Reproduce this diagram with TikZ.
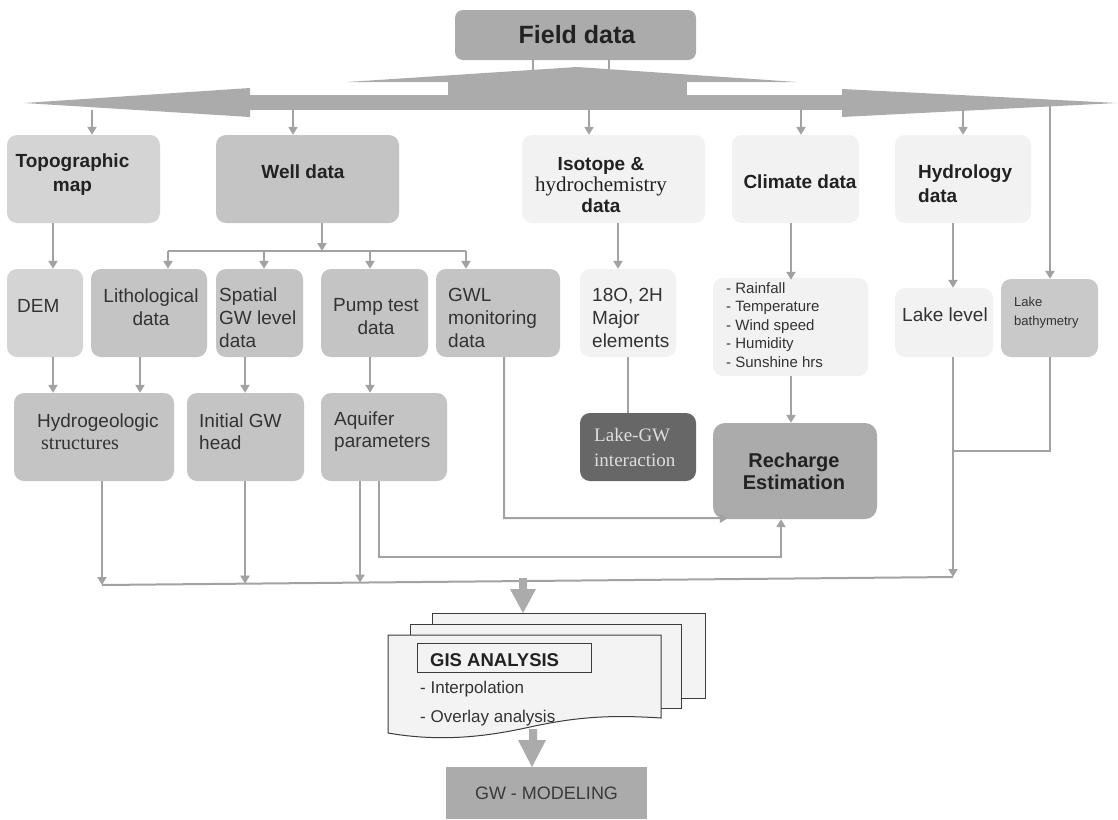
\documentclass[tikz,border=0pt]{standalone}
\usepackage{fontspec}
\setmainfont{Liberation Sans}
\newfontfamily\serifx{Liberation Serif}
\usetikzlibrary{arrows.meta}
\definecolor{lineg}{HTML}{A2A2A2}
\definecolor{arrowg}{HTML}{ABABAB}
\definecolor{boxA}{HTML}{D4D4D4}
\definecolor{boxB}{HTML}{C4C4C4}
\definecolor{boxC}{HTML}{F2F2F2}
\definecolor{boxD}{HTML}{ABABAB}
\definecolor{boxE}{HTML}{676767}
\definecolor{boxF}{HTML}{C9C9C9}
\definecolor{docfill}{HTML}{F3F3F3}
\definecolor{docline}{HTML}{3C3C3C}
\definecolor{txt}{HTML}{333333}
\definecolor{txtb}{HTML}{222222}
\tikzset{
  box/.style={rounded corners=10pt, inner sep=0pt, draw=none},
  conn/.style={draw=lineg, line width=2pt},
  arr/.style={conn, -{Triangle[width=9pt,length=8pt]}},
  lbl/.style={inner sep=0pt, text=txt, font=\fontsize{19}{23}\selectfont},
  lblb/.style={inner sep=0pt, text=txtb, font=\fontsize{19}{24}\selectfont\bfseries},
  doc/.style={fill=docfill, draw=docline, line width=1pt},
}
\begin{document}
\begin{tikzpicture}[x=1pt,y=-1pt]
\useasboundingbox (0,0) rectangle (1118,819);
\fill[white] (0,0) rectangle (1118,819);

% ---------- Field data and big double arrow ----------
\node[box, rounded corners=8pt, fill=boxD, minimum width=241pt, minimum height=50pt] (field) at (575.5,35) {};
\node[lblb, font=\fontsize{25}{30}\selectfont\bfseries] (tField) at (577,35) {Field data};
\coordinate (stemA) at (533,70);
\coordinate (stemB) at (609,70);
\draw[conn] (field.south -| stemA) -- (stemA);
\draw[conn] (field.south -| stemB) -- (stemB);
\fill[arrowg] (347,82) -- (577,67) -- (797,82) -- cycle;
\fill[arrowg] (448,81) rectangle (687,96);
\fill[arrowg] (249,95) rectangle (843,110);
\fill[arrowg] (250,88) -- (24,103) -- (250,117) -- cycle;
\fill[arrowg] (842,89) -- (1117,103) -- (842,117) -- cycle;

% ---------- top row ----------
\node[box, fill=boxA, minimum width=153pt, minimum height=88pt] (topo) at (83.5,179) {};
\node[box, fill=boxB, minimum width=183pt, minimum height=88pt] (well) at (307.5,179) {};
\node[box, fill=boxC, minimum width=183pt, minimum height=88pt] (iso) at (613.5,179) {};
\node[box, fill=boxC, minimum width=127pt, minimum height=88pt] (clim) at (795.5,179) {};
\node[box, fill=boxC, minimum width=136pt, minimum height=88pt] (hydro) at (963,179) {};

\node[lblb, align=center] (tTopo) at (72.5,175) {Topographic\\map};
\node[lblb] (tWell) at (303,172) {Well data};
\node[lblb, align=center, font=\fontsize{19}{21}\selectfont\bfseries] (tIso) at (601,185) {Isotope \&\\{\serifx\mdseries\fontsize{21}{21}\selectfont hydrochemistry}\\data};
\node[lblb] (tClim) at (800,182) {Climate data};
\node[lblb, anchor=west, align=left] (tHydro) at (918,184) {Hydrology\\data};

% arrows from band
\coordinate (bTopo) at (92,110);
\coordinate (bWell) at (293,110);
\coordinate (bIso) at (589,110);
\coordinate (bClim) at (801,110);
\coordinate (bHydro) at (963,110);
\coordinate (bBathy) at (1050,106);
\draw[arr] (bTopo) -- (bTopo |- topo.north);
\draw[arr] (bWell) -- (bWell |- well.north);
\draw[arr] (bIso) -- (bIso |- iso.north);
\draw[arr] (bClim) -- (bClim |- clim.north);
\draw[arr] (bHydro) -- (bHydro |- hydro.north);

% ---------- second row ----------
\node[box, fill=boxA, minimum width=76pt, minimum height=88pt] (dem) at (45,313) {};
\node[box, fill=boxB, minimum width=116pt, minimum height=88pt] (litho) at (149,313) {};
\node[box, fill=boxB, minimum width=87pt, minimum height=88pt] (spatial) at (259.5,313) {};
\node[box, fill=boxB, minimum width=107pt, minimum height=88pt] (pump) at (374.5,313) {};
\node[box, fill=boxB, minimum width=124pt, minimum height=88pt] (gwl) at (498,313) {};
\node[box, fill=boxC, minimum width=96pt, minimum height=88pt] (iso2) at (628,313) {};
\node[box, fill=boxC, minimum width=155pt, minimum height=98pt] (climlist) at (790.5,327) {};
\node[box, fill=boxC, minimum width=98pt, minimum height=69pt] (lakelevel) at (944,322.5) {};
\node[box, fill=boxF, minimum width=97pt, minimum height=78pt] (bathy) at (1049.5,318) {};

\node[lbl, anchor=west] (tDem) at (17,306) {DEM};
\node[lbl, align=center] (tLitho) at (151,307) {Lithological\\data};
\node[lbl, anchor=west, align=left] (tSpatial) at (219,318) {Spatial\\GW level\\data};
\node[lbl, align=center] (tPump) at (376,317) {Pump test\\data};
\node[lbl, anchor=west, align=left] (tGwl) at (448,318) {GWL\\monitoring\\data};
\node[lbl, anchor=west, align=left] (tIso2) at (592,318) {18O, 2H\\Major\\elements};
\node[lbl, anchor=west, align=left, font=\fontsize{15}{18.5}\selectfont] (tClimList) at (726,325) {- Rainfall\\- Temperature\\- Wind speed\\- Humidity\\- Sunshine hrs};
\node[lbl] (tLake) at (945,315) {Lake level};
\node[lbl, anchor=west, align=left, font=\fontsize{13}{19}\selectfont] (tBathy) at (1014,313) {Lake\\bathymetry};

% well branching
\coordinate (wBr) at (322,251);
\coordinate (brL) at (168,251);
\coordinate (brS) at (264,251);
\coordinate (brP) at (370,251);
\coordinate (brR) at (466,251);
\draw[arr] (well.south -| wBr) -- (wBr);
\draw[conn] (brL) -- (brR);
\draw[arr] (brL) -- (brL |- litho.north);
\draw[arr] (brS) -- (brS |- spatial.north);
\draw[arr] (brP) -- (brP |- pump.north);
\draw[arr] (brR) -- (brR |- gwl.north);

% top row to second row
\coordinate (xTopo) at (53,0);
\coordinate (xIso) at (618,0);
\coordinate (xClim) at (791,0);
\coordinate (xHydro) at (953,0);
\draw[arr] (topo.south -| xTopo) -- (dem.north -| xTopo);
\draw[arr] (iso.south -| xIso) -- (iso2.north -| xIso);
\draw[arr] (clim.south -| xClim) -- ([yshift=-2pt]climlist.north -| xClim);
\draw[arr] (hydro.south -| xHydro) -- (lakelevel.north -| xHydro);
\draw[arr] (bBathy) -- (bBathy |- bathy.north);

% ---------- third row ----------
\node[box, fill=boxB, minimum width=160pt, minimum height=88pt] (hydrogeo) at (94,437) {};
\node[box, fill=boxB, minimum width=117pt, minimum height=88pt] (initial) at (245.5,437) {};
\node[box, fill=boxB, minimum width=126pt, minimum height=88pt] (aquifer) at (384,437) {};
\node[box, fill=boxE, minimum width=116pt, minimum height=68pt] (lakegw) at (638,447) {};
\node[box, rounded corners=12pt, fill=boxD, minimum width=164pt, minimum height=96pt] (recharge) at (795,471) {};

\node[lbl, anchor=west, align=left, font=\fontsize{19}{22}\selectfont] (tHydrogeo) at (37,432) {Hydrogeologic\\\hspace*{4pt}{\serifx\fontsize{20}{22}\selectfont structures}};
\node[lbl, anchor=west, align=left, font=\fontsize{19}{22}\selectfont] (tInit) at (199,432) {Initial GW\\head};
\node[lbl, anchor=west, align=left, font=\fontsize{19}{22}\selectfont] (tAq) at (334,432) {Aquifer\\parameters};
\node[inner sep=0pt, anchor=west, align=left, text={rgb,255:red,222;green,222;blue,222}, font=\serifx\fontsize{19}{25}\selectfont] (tLakeGW) at (594,447) {Lake-GW\\interaction};
\node[lblb, align=center, font=\fontsize{20}{22}\selectfont\bfseries] (tRech) at (794,471) {Recharge\\Estimation};

% second row to third row
\coordinate (xLitho) at (140,0);
\coordinate (xSpat) at (245,0);
\coordinate (xPump) at (370,0);
\coordinate (xIso2) at (628,0);
\draw[arr] (dem.south -| xTopo) -- (hydrogeo.north -| xTopo);
\draw[arr] (litho.south -| xLitho) -- (hydrogeo.north -| xLitho);
\draw[arr] (spatial.south -| xSpat) -- (initial.north -| xSpat);
\draw[arr] (pump.south -| xPump) -- (aquifer.north -| xPump);
\draw[conn] (iso2.south -| xIso2) -- (lakegw.north -| xIso2);
\draw[arr] (climlist.south -| xClim) -- (recharge.north -| xClim);

% GWL monitoring and aquifer parameters to recharge
\coordinate (gwlX) at (504,518);
\draw[arr] (gwl.south -| gwlX) -- (gwlX) -- ([xshift=15pt,yshift=1pt]recharge.south west);
\coordinate (aqC) at (379,557);
\coordinate (rcC) at (781,557);
\draw[arr] (aquifer.south -| aqC) -- (aqC) -- (rcC) -- (recharge.south -| rcC);

% collector line
\coordinate (colL) at (102,585);
\coordinate (colB) at (245,583.7);
\coordinate (colC) at (360,582.6);
\coordinate (colR) at (953,577);
\draw[conn] (colL) -- (colR);
\draw[arr] (hydrogeo.south -| colL) -- (colL);
\draw[arr] (initial.south -| colB) -- (colB);
\draw[arr] (aquifer.south -| colC) -- (colC);
\draw[arr] (lakelevel.south -| colR) -- (colR);
\coordinate (bthC) at (1050,451);
\coordinate (bthJ) at (953,451);
\draw[conn] (bathy.south -| bthC) -- (bthC) -- (bthJ);

% ---------- GIS analysis ----------
\fill[arrowg] (519,578) -- (527,578) -- (527,589) -- (536,589) -- (523,613) -- (510,589) -- (519,589) -- cycle;
\node[doc, inner sep=0pt, minimum width=273pt, minimum height=85pt] (gisback) at (568.5,655.5) {};
\node[doc, inner sep=0pt, minimum width=271pt, minimum height=84pt] (gismid) at (545.5,666) {};
\path[doc] (388,635) -- (661,635) -- (661,718)
  .. controls (615,715) and (580,716) .. (530,727)
  .. controls (485,737) and (440,742) .. (388,733) -- cycle;
\node[doc, inner sep=0pt, minimum width=174pt, minimum height=29pt] (gisbox) at (504,657.5) {};
\node[lblb, anchor=west, font=\fontsize{18.5}{22}\selectfont\bfseries] (tGis) at (430,660) {GIS ANALYSIS};
\node[lbl, anchor=west, font=\fontsize{17}{20}\selectfont] (tInterp) at (420,689) {- Interpolation};
\node[lbl, anchor=west, font=\fontsize{17}{20}\selectfont] (tOverlay) at (420,718) {- Overlay analysis};
\fill[arrowg] (529,729) -- (537,729) -- (537,740) -- (546,740) -- (532,767) -- (518,740) -- (529,740) -- cycle;

% ---------- GW modeling ----------
\node[fill=boxD, inner sep=0pt, minimum width=201pt, minimum height=52pt, text={rgb,255:red,58;green,58;blue,58}, font=\fontsize{18}{22}\selectfont] (gwmod) at (546.5,793) {GW - MODELING};
\end{tikzpicture}
\end{document}
